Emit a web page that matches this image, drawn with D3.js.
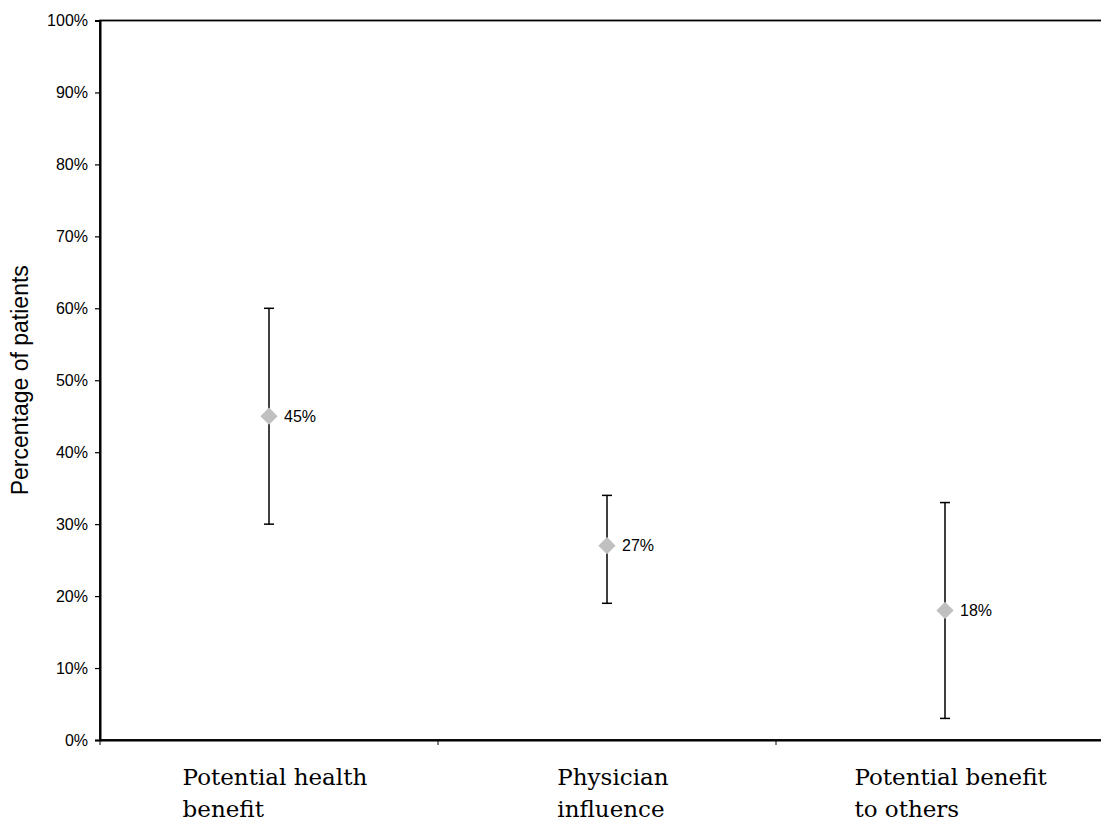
<!DOCTYPE html>
<html>
<head>
<meta charset="utf-8">
<script src="https://cdn.jsdelivr.net/npm/d3@7"></script>
<style>
  html, body { margin: 0; padding: 0; background: #fff; }
  svg { display: block; }
</style>
</head>
<body>
<svg id="chart" width="1101" height="825"></svg>
<script>
// Reasons for participating: share of patients, with 95% confidence intervals
const categories = [
  ["Potential health", "benefit"],
  ["Physician", "influence"],
  ["Potential benefit", "to others"]
];
const estimates = [45, 27, 18];
const lowerCI = [30, 19, 3];
const upperCI = [60, 34, 33];
const yTicks = [0, 10, 20, 30, 40, 50, 60, 70, 80, 90, 100];

const svg = d3.select("#chart");
const margin = { left: 100, top: 20.5, bottom: 85 };
const plotRight = 1114;
const plotBottom = 825 - margin.bottom;

const keys = categories.map((c, i) => i);
const x = d3.scaleBand().domain(keys).range([margin.left, plotRight]);
const y = d3.scaleLinear().domain([0, 100]).range([plotBottom, margin.top]);

const sans = "'Liberation Sans', Arial, sans-serif";
const serif = "'DejaVu Serif', 'Liberation Serif', serif";

// Plot frame (top edge; right edge runs past the canvas)
svg.append("rect")
  .attr("x", margin.left).attr("y", margin.top)
  .attr("width", plotRight - margin.left).attr("height", plotBottom - margin.top)
  .attr("fill", "none").attr("stroke", "#000").attr("stroke-width", 1.8);

// Y axis
const yAxis = svg.append("g")
  .attr("transform", `translate(${margin.left},0)`)
  .call(d3.axisLeft(y).tickValues(yTicks).tickFormat(d => d + "%").tickSize(5).tickPadding(7));
yAxis.select(".domain").attr("stroke-width", 2);
yAxis.selectAll(".tick line").attr("stroke-width", 1.2);
yAxis.selectAll("text").attr("font-family", sans).attr("font-size", 16).attr("fill", "#000");

// X axis (ticks between categories)
const xAxis = svg.append("g")
  .attr("transform", `translate(0,${plotBottom})`)
  .call(d3.axisBottom(x).tickValues([]).tickSizeOuter(0));
xAxis.select(".domain").attr("stroke-width", 2);
const boundaries = keys.map(k => x(k));
xAxis.selectAll(".bound").data(boundaries).join("line")
  .attr("class", "bound")
  .attr("x1", d => d).attr("x2", d => d)
  .attr("y1", 0).attr("y2", 5)
  .attr("stroke", "#000").attr("stroke-width", 1);

// Category labels: left-aligned lines, block centred in the band (nudged right)
const labelG = svg.append("g");
keys.forEach(k => {
  const t = labelG.append("text")
    .attr("font-family", serif).attr("font-size", 23).attr("fill", "#000");
  categories[k].forEach((line, j) => {
    t.append("tspan").attr("x", 0).attr("y", 785 + j * 32).text(line);
  });
  const w = t.node().getBBox().width;
  t.attr("transform", `translate(${x(k) + x.bandwidth() / 2 - w / 2 + 6},0)`);
});

// Y axis title
svg.append("text")
  .attr("transform", `translate(28,${(margin.top + plotBottom) / 2}) rotate(-90)`)
  .attr("text-anchor", "middle")
  .attr("font-family", sans).attr("font-size", 23).attr("fill", "#000")
  .text("Percentage of patients");

// Error bars
const cx = k => x(k) + x.bandwidth() / 2;
const bars = svg.append("g").attr("stroke", "#000").attr("stroke-width", 1.5);
keys.forEach(k => {
  bars.append("line").attr("x1", cx(k)).attr("x2", cx(k))
    .attr("y1", y(lowerCI[k])).attr("y2", y(upperCI[k]));
  [lowerCI[k], upperCI[k]].forEach(v => {
    bars.append("line").attr("x1", cx(k) - 5).attr("x2", cx(k) + 5)
      .attr("y1", y(v)).attr("y2", y(v));
  });
});

// Point estimates (diamonds) and value labels
const diamond = d3.symbol().type(d3.symbolDiamond2).size(190);
svg.append("g").selectAll("path").data(keys).join("path")
  .attr("d", diamond)
  .attr("transform", k => `translate(${cx(k)},${y(estimates[k])})`)
  .attr("fill", "#c0c0c0");

svg.append("g").selectAll("text").data(keys).join("text")
  .attr("x", k => cx(k) + 15)
  .attr("y", k => y(estimates[k]))
  .attr("dy", "0.35em")
  .attr("font-family", sans).attr("font-size", 16).attr("fill", "#000")
  .text(k => estimates[k] + "%");
</script>
</body>
</html>
